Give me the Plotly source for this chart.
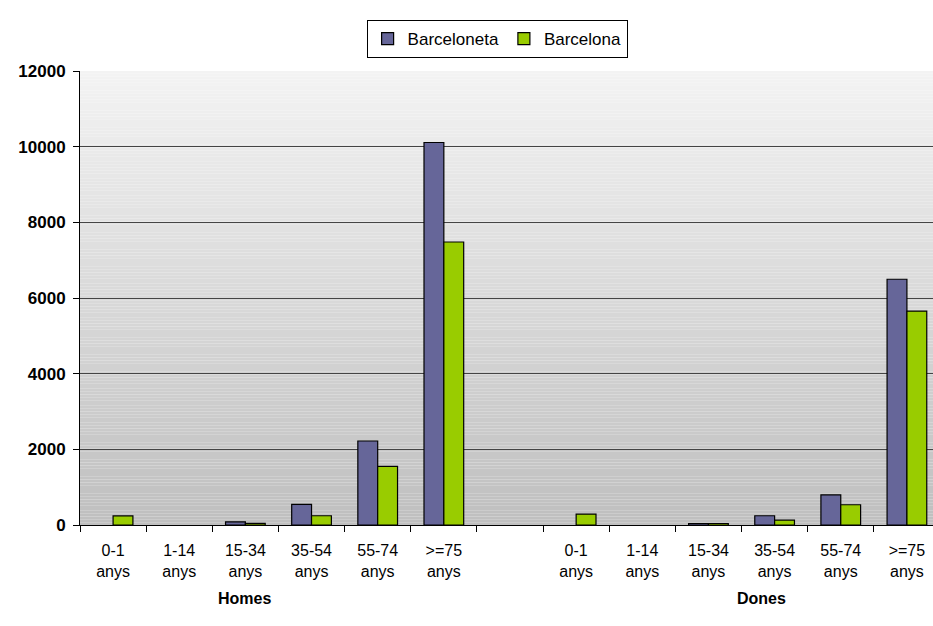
import plotly.graph_objects as go

categories = ["H 0-1", "H 1-14", "H 15-34", "H 35-54", "H 55-74", "H >=75", "gap",
              "D 0-1", "D 1-14", "D 15-34", "D 35-54", "D 55-74", "D >=75"]
tick_labels = ["0-1<br>anys", "1-14<br>anys", "15-34<br>anys", "35-54<br>anys", "55-74<br>anys", ">=75<br>anys", "",
               "0-1<br>anys", "1-14<br>anys", "15-34<br>anys", "35-54<br>anys", "55-74<br>anys", ">=75<br>anys"]
barceloneta = [None, None, 85, 545, 2220, 10110, None, None, None, 40, 245, 795, 6495]
barcelona = [240, None, 45, 245, 1550, 7480, None, 290, None, 40, 130, 535, 5655]
group_labels = ["Homes", "Dones"]
group_pos = [1.99, 9.8]

fig = go.Figure()
fig.add_trace(go.Bar(x=categories, y=barceloneta, name="Barceloneta",
                     marker=dict(color="#666699", line=dict(color="black", width=1.2))))
fig.add_trace(go.Bar(x=categories, y=barcelona, name="Barcelona",
                     marker=dict(color="#99CC00", line=dict(color="black", width=1.2))))

# gradient background
n = 160
top = (243, 243, 243)
bot = (191, 191, 191)
for i in range(n):
    t = (i + 0.5) / n
    c = tuple(int(round(top[k] + (bot[k] - top[k]) * t)) for k in range(3))
    fig.add_shape(type="rect", xref="paper", yref="paper",
                  x0=0, x1=1, y0=1 - (i + 1) / n, y1=1 - i / n,
                  fillcolor="rgb(%d,%d,%d)" % c, line=dict(width=0), layer="below")

for lbl, pos in zip(group_labels, group_pos):
    fig.add_annotation(x=pos, y=0, xref="x", yref="paper", yshift=-73,
                       text="<b>%s</b>" % lbl, showarrow=False,
                       font=dict(size=16, color="black"), yanchor="middle")

fig.update_layout(
    width=933, height=626,
    margin=dict(l=80, r=0, t=71, b=101),
    paper_bgcolor="white", plot_bgcolor="rgba(0,0,0,0)",
    font=dict(family="Arial, Liberation Sans, sans-serif", size=13, color="black"),
    barmode="group", bargap=0.4, bargroupgap=0,
    showlegend=True,
    legend=dict(orientation="h", x=0.489, xanchor="center", y=1.112, yanchor="top",
                bgcolor="white", bordercolor="black", borderwidth=1,
                font=dict(size=17), itemwidth=30, traceorder="normal",
                tracegroupgap=0),
    xaxis=dict(type="category", categoryorder="array", categoryarray=categories,
               tickvals=categories, ticktext=tick_labels, tickson="boundaries",
               ticks="outside", ticklen=6, tickcolor="black",
               showline=True, linecolor="black", linewidth=1,
               range=[-0.5, 12.5 - 7 / 66.2], showgrid=False,
               tickfont=dict(size=16), ticklabelstandoff=11),
    yaxis=dict(range=[0, 12000], tickvals=[0, 2000, 4000, 6000, 8000, 10000, 12000],
               ticks="outside", ticklen=6, tickcolor="black",
               showline=True, linecolor="black", linewidth=1,
               showgrid=True, gridcolor="#444444", gridwidth=1,
               zeroline=False, tickfont=dict(size=17, weight="bold"),
               tickformat="d", ticklabelstandoff=4),
)

fig.write_html("out.html", config={"displayModeBar": False},
               post_script="document.body.style.margin='0';document.body.style.overflow='hidden';")
